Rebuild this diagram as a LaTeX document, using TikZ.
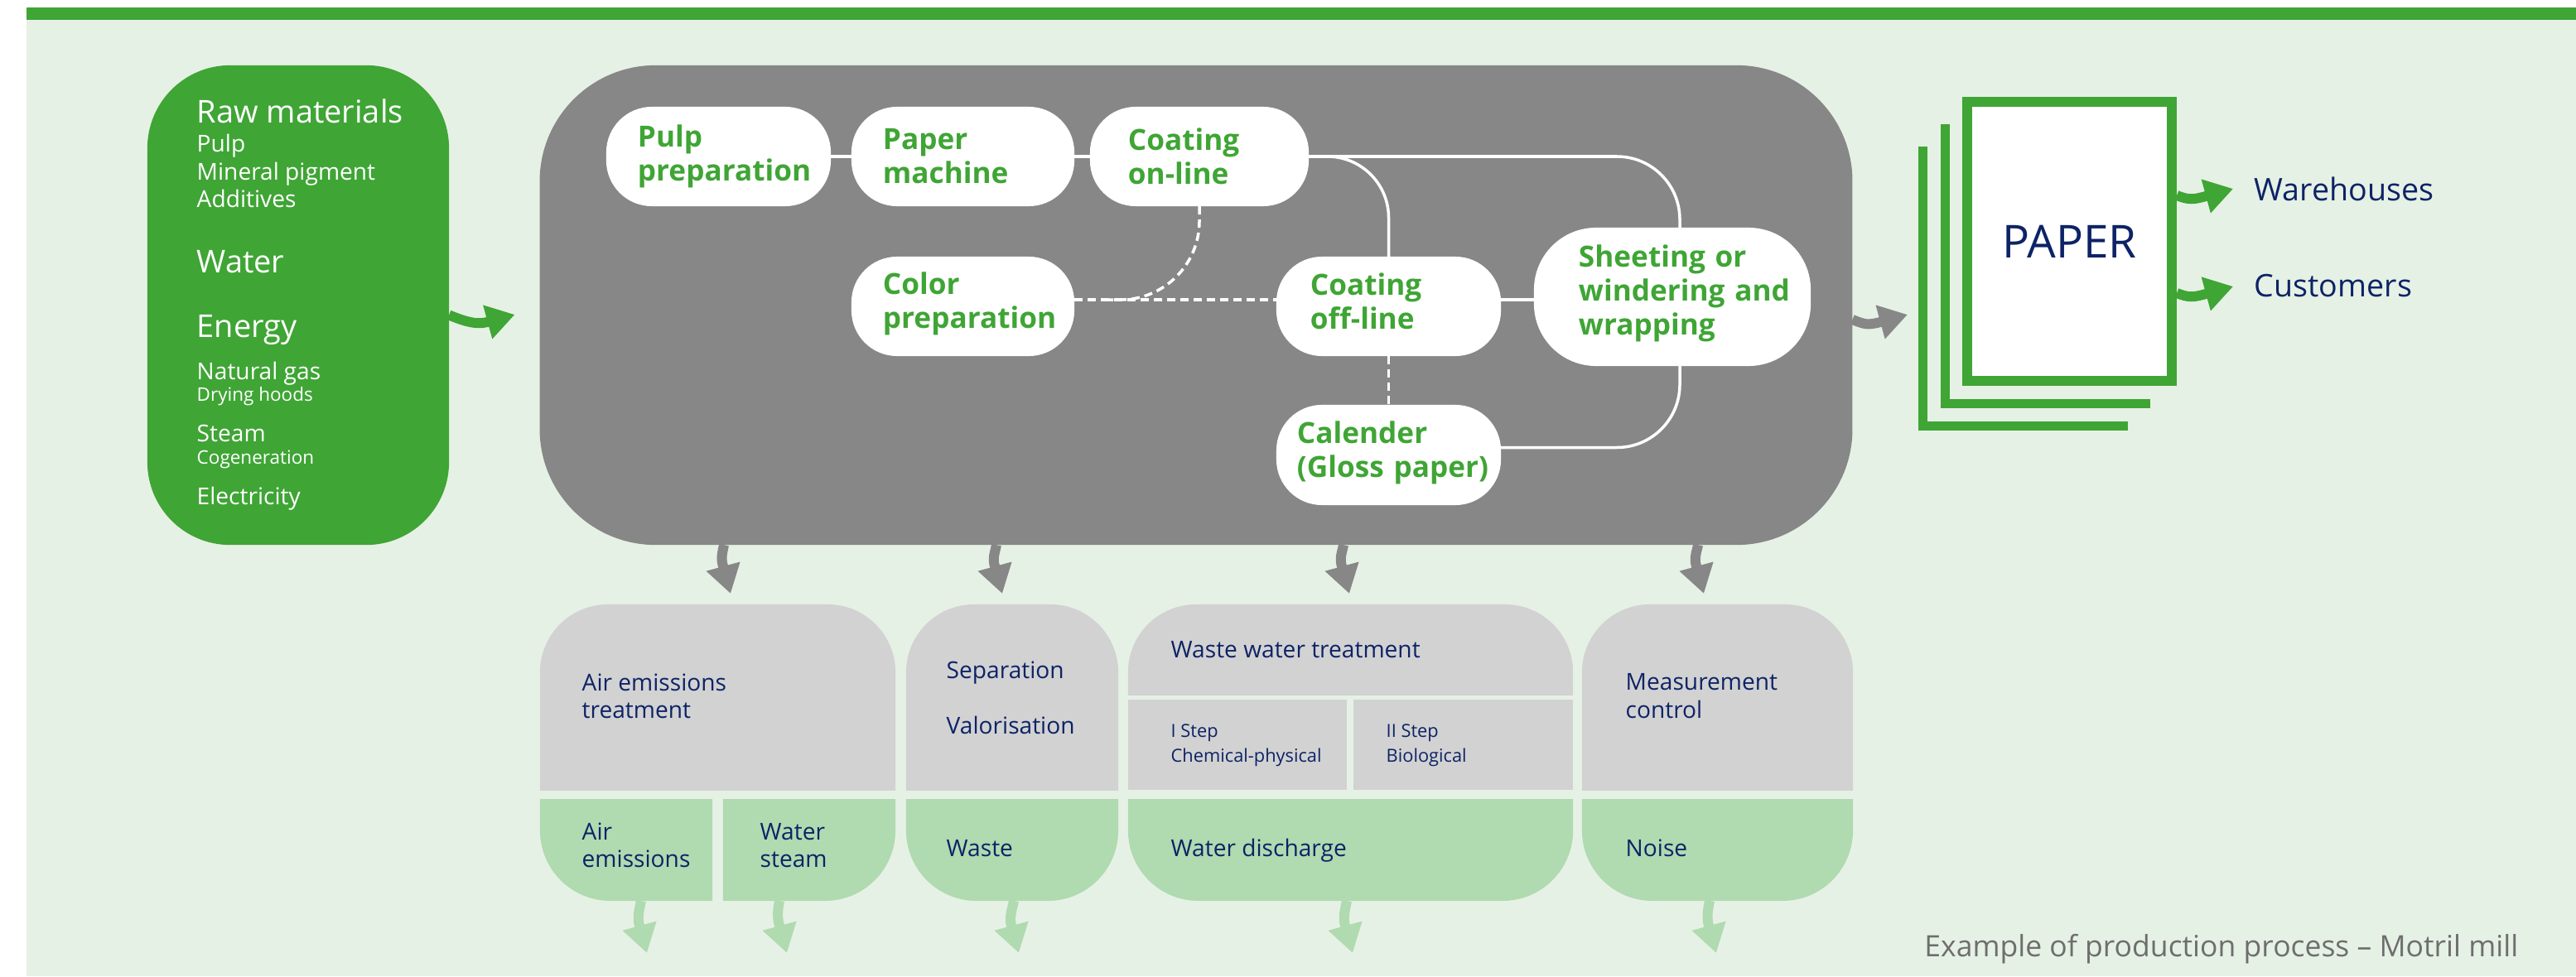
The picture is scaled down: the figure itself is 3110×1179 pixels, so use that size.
\documentclass[tikz,border=0pt]{standalone}
\usepackage{fontspec}
\setmainfont{Open Sans}
\usetikzlibrary{arrows.meta,calc}

\definecolor{leaf}{HTML}{3FA535}
\definecolor{mint}{HTML}{E6F1E5}
\definecolor{slate}{HTML}{878787}
\definecolor{mist}{HTML}{D2D2D2}
\definecolor{sage}{HTML}{B0DAB0}
\definecolor{navy}{HTML}{0D2366}
\definecolor{capgrey}{HTML}{6E6E6E}

\pgfdeclarelayer{back}
\pgfsetlayers{back,main}

\newcommand\fsz[2]{\fontsize{#1}{#2}\selectfont}
% extra space under a node's last line, raising its text block
\newcommand\liftgap[1]{\endgraf\vspace{#1}}

% filled cells with selected rounded corners (clipped rounded rectangles)
\newcommand\toprnd[2]{\begin{scope}\clip (#2.south west) rectangle (#2.north east);
  \fill[#1,rounded corners=0.82cm] ($(#2.south west)+(0,200)$) rectangle (#2.north east);\end{scope}}
\newcommand\botrnd[2]{\begin{scope}\clip (#2.south west) rectangle (#2.north east);
  \fill[#1,rounded corners=0.85cm] (#2.south west) rectangle ($(#2.north east)+(0,-200)$);\end{scope}}
\newcommand\blrnd[2]{\begin{scope}\clip (#2.south west) rectangle (#2.north east);
  \fill[#1,rounded corners=0.85cm] (#2.south west) rectangle ($(#2.north east)+(200,-200)$);\end{scope}}
\newcommand\brrnd[2]{\begin{scope}\clip (#2.south west) rectangle (#2.north east);
  \fill[#1,rounded corners=0.85cm] ($(#2.south west)+(-200,0)$) rectangle ($(#2.north east)+(0,-200)$);\end{scope}}

% swoosh arrows: curved shaft, straight last piece carries the head
\newcommand\rtarr[3]{\draw[#1] (#2) .. controls ($(#2)+(15,6)$) and ($(#3)+(-48,13)$) .. ($(#3)+(-33,9)$) -- (#3);}
\newcommand\dnarr[3]{\draw[#1] (#2) .. controls ($(#2)+(-2,10)$) and ($(#3)+(-12,-43)$) .. ($(#3)+(-9,-33)$) -- (#3);}

\begin{document}
\begin{tikzpicture}[x=0.01cm,y=-0.01cm,
  cell/.style={inner sep=0pt,outer sep=0pt},
  pnode/.style={fill=white,rounded corners=0.55cm,minimum height=1.2cm,inner ysep=0pt,
    outer sep=0pt,align=left,text=leaf,font=\bfseries\fsz{10pt}{11.7pt}},
  lift/.style={execute at end node={\liftgap{#1}}},
  wline/.style={white,line width=0.035cm},
  wdash/.style={wline,dash pattern=on 0.1cm off 0.06cm},
  rbig/.style={anchor=base west,inner sep=0pt,text=white,font=\fsz{10.8pt}{13pt}},
  rmid/.style={anchor=base west,inner sep=0pt,text=white,font=\fsz{8pt}{10pt}},
  rsml/.style={anchor=base west,inner sep=0pt,text=white,font=\fsz{6.4pt}{8pt}},
  btxt/.style={anchor=base west,inner sep=0pt,text=navy,font=\fsz{8pt}{10pt}},
  stxt/.style={anchor=base west,inner sep=0pt,text=navy,font=\fsz{6.2pt}{8pt}},
  flow/.style={line width=0.12cm,-{Triangle[length=0.34cm,width=0.4cm]}},
  garr/.style={flow,slate},
  larr/.style={flow,leaf},
  sarr/.style={flow,sage}]
\useasboundingbox (0,0) rectangle (3110,1179);

% ---------- inputs ----------
\node[cell,fill=leaf,rounded corners=1cm,minimum width=3.64cm,minimum height=5.79cm] (raw) at (360,368.5) {};
\node[rbig] (tRaw) at (237,149) {Raw materials};
\node[rmid] (tPulp) at (237,183) {Pulp};
\node[rmid] (tMin) at (237,217) {Mineral pigment};
\node[rmid] (tAdd) at (237,251) {Additives};
\node[rbig] (tWater) at (237,329) {Water};
\node[rbig] (tEnergy) at (237,407) {Energy};
\node[rmid] (tGas) at (237,458) {Natural gas};
\node[rsml] (tHoods) at (237,484) {Drying hoods};
\node[rmid] (tSteam) at (237,533) {Steam};
\node[rsml] (tCogen) at (237,560) {Cogeneration};
\node[rmid] (tElec) at (237,609) {Electricity};

% ---------- process block ----------
\node[cell,fill=slate,rounded corners=1.4cm,minimum width=15.84cm,minimum height=5.79cm] (proc) at (1444,368.5) {};

\node[pnode,text width=1.95cm,inner xsep=0.38cm] (pulp) at (867.5,189) {\mbox{Pulp}\\\mbox{preparation}};
\node[pnode,text width=1.93cm,inner xsep=0.38cm] (papm) at (1162.5,189) {\mbox{Paper}\\\mbox{machine}};
\node[pnode,text width=1.72cm,inner xsep=0.46cm] (coaton) at (1448,189) {\mbox{Coating}\\\mbox{on-line}};
\node[pnode,lift=0.06cm,text width=1.93cm,inner xsep=0.38cm] (color) at (1162.5,370) {\mbox{Color}\\\mbox{preparation}};
\node[pnode,lift=0.12cm,text width=1.89cm,inner xsep=0.41cm] (coatoff) at (1676.5,370) {\mbox{Coating}\\\mbox{off-line}};
\node[pnode,lift=0.05cm,text width=2.21cm,inner xsep=0.25cm,minimum height=1.21cm] (cal) at (1676.5,549.5) {\mbox{Calender}\\\mbox{(Gloss paper)}};
\node[pnode,lift=0.08cm,text width=2.26cm,inner xsep=0.54cm,minimum height=1.67cm,rounded corners=0.75cm] (sheet) at (2019,358.5) {\mbox{Sheeting or}\\\mbox{windering and}\\\mbox{wrapping}};

\draw[wline] (pulp) -- (papm);
\draw[wline] (papm) -- (coaton);
\draw[wline,rounded corners=0.76cm] (coaton.east) -| ($(sheet.north)+(9,0)$);
\draw[wline,rounded corners=0.74cm] (coaton.east) -| (coatoff.north);
\draw[wline] ($(coatoff.east)+(0,-8)$) -- ($(coatoff.east -| sheet.west)+(0,-8)$);
\draw[wline,rounded corners=0.76cm] ($(cal.east)+(0,-9)$) -| ($(sheet.south)+(9,0)$);
\draw[wdash] ($(color.east)+(0,-8)$) -- ($(color.east -| coatoff.west)+(0,-8)$);
\draw[wdash,rounded corners=0.95cm] (coaton.south) |- ($(color.east)+(40,-8)$);
\draw[wdash] (coatoff.south) -- (cal.north);

% ---------- product ----------
\draw[leaf,line width=0.11cm] (2321,177) |- (2569,514);
\draw[leaf,line width=0.11cm] (2348,150) |- (2596,487);
\node[draw=leaf,line width=0.12cm,fill=white,inner sep=0pt,minimum width=2.47cm,minimum height=3.37cm,
  text=navy,font=\fsz{15.6pt}{18pt}] (paper) at (2498.5,291.5) {PAPER};
\node[btxt,font=\fsz{10.7pt}{13pt}] (wh) at (2721,242) {Warehouses};
\node[btxt,font=\fsz{10.7pt}{13pt}] (cu) at (2721,358) {Customers};

% ---------- treatment cells ----------
\node[cell,minimum width=4.29cm,minimum height=2.24cm] (aet) at (866.5,842) {};
\node[cell,minimum width=2.08cm,minimum height=1.22cm] (air) at (756,1027) {};
\node[cell,minimum width=2.08cm,minimum height=1.22cm] (wst) at (977,1027) {};
\node[cell,minimum width=2.56cm,minimum height=2.24cm] (sep) at (1222,842) {};
\node[cell,minimum width=2.56cm,minimum height=1.22cm] (waste) at (1222,1027) {};
\node[cell,minimum width=5.37cm,minimum height=1.09cm] (wwt) at (1630.5,784.5) {};
\node[cell,minimum width=2.64cm,minimum height=1.09cm] (st1) at (1494,899.5) {};
\node[cell,minimum width=2.65cm,minimum height=1.09cm] (st2) at (1766.5,899.5) {};
\node[cell,minimum width=5.37cm,minimum height=1.22cm] (wdis) at (1630.5,1027) {};
\node[cell,minimum width=3.27cm,minimum height=2.24cm] (meas) at (2073.5,842) {};
\node[cell,minimum width=3.27cm,minimum height=1.22cm] (noise) at (2073.5,1027) {};

\node[btxt] (tAet1) at (702,834) {Air emissions};
\node[btxt] (tAet2) at (702,867) {treatment};
\node[btxt] (tSep) at (1142,819) {Separation};
\node[btxt] (tVal) at (1142,886) {Valorisation};
\node[btxt] (tWwt) at (1413,794) {Waste water treatment};
\node[stxt] (tSt1a) at (1413,890) {I Step};
\node[stxt] (tSt1b) at (1413,920) {Chemical-physical};
\node[stxt] (tSt2a) at (1673,890) {II Step};
\node[stxt] (tSt2b) at (1673,920) {Biological};
\node[btxt] (tMeas1) at (1962,833) {Measurement};
\node[btxt] (tMeas2) at (1962,867) {control};
\node[btxt] (tAir1) at (702,1014) {Air};
\node[btxt] (tAir2) at (702,1047) {emissions};
\node[btxt] (tWst1) at (917,1014) {Water};
\node[btxt] (tWst2) at (917,1047) {steam};
\node[btxt] (tWaste) at (1142,1034) {Waste};
\node[btxt] (tWdis) at (1413,1034) {Water discharge};
\node[btxt] (tNoise) at (1962,1034) {Noise};

\node[anchor=base east,inner sep=0pt,text=capgrey,font=\fsz{10.1pt}{12pt}] (caption) at (3041,1155) {Example of production process – Motril mill};

% ---------- arrows ----------
\coordinate (rA0) at ($(raw.east)+(0,12)$);
\coordinate (rA1) at ($(proc.west)+(-30,11.5)$);
\rtarr{larr}{rA0}{rA1}
\coordinate (pA0) at ($(proc.east)+(0,17.5)$);
\coordinate (pA1) at ($(paper.west)+(-66,88.5)$);
\rtarr{garr}{pA0}{pA1}
\coordinate (wA0) at ($(paper.east)+(0,-55.5)$);
\coordinate (wA1) at ($(paper.east)+(68,-63.5)$);
\rtarr{larr}{wA0}{wA1}
\coordinate (cA0) at ($(paper.east)+(0,62.5)$);
\coordinate (cA1) at ($(paper.east)+(68,54.5)$);
\rtarr{larr}{cA0}{cA1}

\coordinate (g10) at ($(proc.south -| aet.north)+(7.5,0)$);
\coordinate (g11) at ($(aet.north)+(15.5,-13)$);
\dnarr{garr}{g10}{g11}
\coordinate (g20) at ($(proc.south -| sep.north)+(-19,0)$);
\coordinate (g21) at ($(sep.north)+(-12,-13)$);
\dnarr{garr}{g20}{g21}
\coordinate (g30) at ($(proc.south -| wwt.north)+(-8.5,0)$);
\coordinate (g31) at ($(wwt.north)+(-1.5,-13)$);
\dnarr{garr}{g30}{g31}
\coordinate (g40) at ($(proc.south -| meas.north)+(-23.5,0)$);
\coordinate (g41) at ($(meas.north)+(-16.5,-13)$);
\dnarr{garr}{g40}{g41}

\coordinate (o10) at ($(air.south)+(18,0)$);
\coordinate (o11) at ($(air.south)+(25,63)$);
\dnarr{sarr}{o10}{o11}
\coordinate (o20) at ($(wst.south)+(-36,0)$);
\coordinate (o21) at ($(wst.south)+(-27,63)$);
\dnarr{sarr}{o20}{o21}
\coordinate (o30) at ($(waste.south)+(2,0)$);
\coordinate (o31) at ($(waste.south)+(8,63)$);
\dnarr{sarr}{o30}{o31}
\coordinate (o40) at ($(wdis.south)+(-4.5,0)$);
\coordinate (o41) at ($(wdis.south)+(2.5,63)$);
\dnarr{sarr}{o40}{o41}
\coordinate (o50) at ($(noise.south)+(-9.5,0)$);
\coordinate (o51) at ($(noise.south)+(-1.5,63)$);
\dnarr{sarr}{o50}{o51}

% ---------- backdrop and cell fills ----------
\begin{pgfonlayer}{back}
\fill[mint] (32,9) rectangle (3110,1179);
\fill[leaf] (32,9) rectangle (3110,24);
\toprnd{mist}{aet}
\toprnd{mist}{sep}
\toprnd{mist}{wwt}
\toprnd{mist}{meas}
\fill[mist] (st1.north west) rectangle (st1.south east);
\fill[mist] (st2.north west) rectangle (st2.south east);
\blrnd{sage}{air}
\brrnd{sage}{wst}
\botrnd{sage}{waste}
\botrnd{sage}{wdis}
\botrnd{sage}{noise}
\end{pgfonlayer}
\end{tikzpicture}
\end{document}
